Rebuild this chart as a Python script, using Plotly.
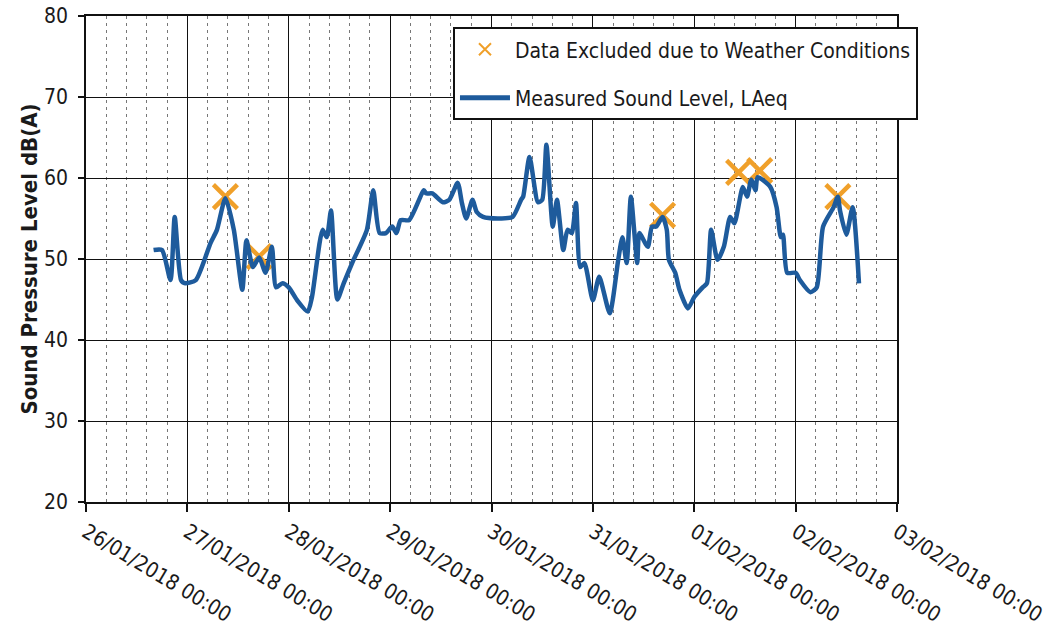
import plotly.graph_objects as go

# Measured sound level (LAeq) time series
times = [
    "2018-01-26 16:00", "2018-01-26 18:00", "2018-01-26 20:00", "2018-01-26 21:00",
    "2018-01-26 22:30", "2018-01-26 23:30", "2018-01-27 02:00", "2018-01-27 05:30",
    "2018-01-27 07:00", "2018-01-27 09:00", "2018-01-27 11:00", "2018-01-27 13:00",
    "2018-01-27 14:00", "2018-01-27 15:30", "2018-01-27 17:00", "2018-01-27 18:30",
    "2018-01-27 20:00", "2018-01-27 21:00", "2018-01-27 22:30", "2018-01-28 00:00",
    "2018-01-28 02:00", "2018-01-28 04:30", "2018-01-28 05:30", "2018-01-28 08:00",
    "2018-01-28 09:00", "2018-01-28 10:00", "2018-01-28 11:30", "2018-01-28 13:00",
    "2018-01-28 15:00", "2018-01-28 18:30", "2018-01-28 20:00", "2018-01-28 21:30",
    "2018-01-28 23:00", "2018-01-29 00:30", "2018-01-29 01:30", "2018-01-29 02:30",
    "2018-01-29 04:30", "2018-01-29 08:00", "2018-01-29 08:30", "2018-01-29 10:00",
    "2018-01-29 12:30", "2018-01-29 14:00", "2018-01-29 16:00", "2018-01-29 17:00",
    "2018-01-29 18:00", "2018-01-29 19:30", "2018-01-29 20:30", "2018-01-29 22:00",
    "2018-01-30 01:30", "2018-01-30 05:00", "2018-01-30 07:00", "2018-01-30 07:30",
    "2018-01-30 09:00", "2018-01-30 11:00", "2018-01-30 12:00", "2018-01-30 13:00",
    "2018-01-30 14:30", "2018-01-30 15:30", "2018-01-30 17:00", "2018-01-30 18:00",
    "2018-01-30 19:00", "2018-01-30 20:00", "2018-01-30 21:00", "2018-01-30 22:00",
    "2018-01-31 00:00", "2018-01-31 01:30", "2018-01-31 04:00", "2018-01-31 06:00",
    "2018-01-31 07:00", "2018-01-31 08:00", "2018-01-31 09:00", "2018-01-31 10:30",
    "2018-01-31 11:00", "2018-01-31 13:00", "2018-01-31 14:00", "2018-01-31 15:00",
    "2018-01-31 16:30", "2018-01-31 17:30", "2018-01-31 18:00", "2018-01-31 19:30",
    "2018-01-31 20:30", "2018-01-31 22:30", "2018-02-01 00:00", "2018-02-01 02:00",
    "2018-02-01 03:00", "2018-02-01 04:00", "2018-02-01 05:30", "2018-02-01 07:00",
    "2018-02-01 08:30", "2018-02-01 09:30", "2018-02-01 11:30", "2018-02-01 12:30",
    "2018-02-01 13:30", "2018-02-01 14:30", "2018-02-01 15:00", "2018-02-01 18:00",
    "2018-02-01 19:30", "2018-02-01 20:30", "2018-02-01 21:00", "2018-02-01 22:00",
    "2018-02-02 00:00", "2018-02-02 01:00", "2018-02-02 03:30", "2018-02-02 05:00",
    "2018-02-02 06:30", "2018-02-02 09:00", "2018-02-02 10:00", "2018-02-02 10:30",
    "2018-02-02 12:00", "2018-02-02 13:30", "2018-02-02 15:00",
]
laeq = [
    51.1, 51.1, 47.4, 55.2,
    47.4, 47.0, 47.4, 52.0,
    53.6, 57.5, 53.6, 46.2,
    52.3, 49.0, 50.2, 48.3,
    51.5, 46.5, 47.0, 46.5,
    44.9, 43.5, 45.3, 53.6,
    52.7, 56.0, 45.0, 47.0,
    49.5, 53.6, 58.5, 53.2,
    53.2, 54.0, 53.2, 54.8,
    54.8, 58.5, 58.1, 58.1,
    57.0, 57.3, 59.4, 56.9,
    55.0, 57.3, 55.8, 55.2,
    55.0, 55.2, 57.3, 57.7,
    62.6, 57.0, 57.3, 64.1,
    54.0, 57.3, 51.1, 53.6,
    53.2, 56.9, 49.0, 49.5,
    44.9, 47.8, 43.3, 49.9,
    52.7, 49.5, 57.7, 49.5,
    53.2, 51.5, 54.0, 54.0,
    55.2, 53.6, 49.9, 48.3,
    46.2, 43.9, 45.3, 46.5,
    47.0, 53.6, 49.9, 51.5,
    55.2, 54.4, 58.9, 57.7,
    59.8, 58.5, 60.1, 58.9,
    56.4, 52.7, 53.0, 48.3,
    48.3, 47.4, 45.9, 46.5,
    54.0, 56.4, 57.7, 56.0,
    53.0, 56.4, 47.0,
]

# Data excluded due to weather conditions
excl_times = ["2018-01-27 09:00", "2018-01-27 17:00", "2018-01-31 16:30",
              "2018-02-01 10:30", "2018-02-01 15:30", "2018-02-02 10:00"]
excl_values = [57.7, 50.3, 55.4, 60.7, 60.9, 57.7]

x_ticks = ["2018-01-26", "2018-01-27", "2018-01-28", "2018-01-29", "2018-01-30",
           "2018-01-31", "2018-02-01", "2018-02-02", "2018-02-03"]
x_ticktext = ["26/01/2018 00:00", "27/01/2018 00:00", "28/01/2018 00:00",
              "29/01/2018 00:00", "30/01/2018 00:00", "31/01/2018 00:00",
              "01/02/2018 00:00", "02/02/2018 00:00", "03/02/2018 00:00"]
y_ticks = [20, 30, 40, 50, 60, 70, 80]

FONT = "DejaVu Sans Condensed"

fig = go.Figure()
fig.add_trace(go.Scatter(
    x=excl_times, y=excl_values, mode="markers",
    name="Data Excluded due to Weather Conditions",
    legendgroup="a",
    marker=dict(symbol="x-thin", size=24, color="#F0A02A",
                line=dict(color="#F0A02A", width=4.5)),
))
fig.add_trace(go.Scatter(
    x=times, y=laeq, mode="lines",
    name="Measured Sound Level, LAeq",
    legendgroup="b",
    line=dict(color="#1E5B9C", width=4.5, shape="spline", smoothing=0.6),
))

fig.update_layout(
    width=1051, height=632,
    margin=dict(l=86, r=154, t=16, b=130),
    paper_bgcolor="white", plot_bgcolor="white",
    font=dict(family=FONT, size=21, color="#1a1a1a"),
    showlegend=True,
    legend=dict(
        x=0.4525, y=0.977, xanchor="left", yanchor="top",
        bgcolor="white", bordercolor="#111", borderwidth=2,
        font=dict(family=FONT, size=21, color="#1a1a1a"),
        tracegroupgap=18, itemwidth=50, itemsizing="constant",
        traceorder="grouped",
    ),
    xaxis=dict(
        type="date", automargin=False,
        range=["2018-01-26", "2018-02-03"],
        tickmode="array", tickvals=x_ticks, ticktext=x_ticktext,
        tickangle=31,
        ticks="outside", ticklen=8, tickcolor="#111", tickwidth=1.5,
        showline=True, linecolor="#111", linewidth=1.5, mirror=True,
        showgrid=True, gridcolor="#111", gridwidth=1.2,
        minor=dict(dtick=17280000, tick0="2018-01-26", showgrid=True,
                   gridcolor="#777", gridwidth=1, griddash="3px,4px", ticks=""),
        tickfont=dict(family=FONT, size=21),
        zeroline=False,
    ),
    yaxis=dict(
        range=[20, 80], automargin=False,
        tickvals=y_ticks,
        ticks="outside", ticklen=6, tickcolor="#111", tickwidth=1.5,
        ticklabelstandoff=6,
        showline=True, linecolor="#111", linewidth=1.5, mirror=True,
        showgrid=True, gridcolor="#111", gridwidth=1.2,
        title=dict(text="<b>Sound Pressure Level dB(A)</b>",
                   font=dict(family=FONT, size=22), standoff=0),
        tickfont=dict(family=FONT, size=21),
        zeroline=False,
    ),
)

fig.write_html("out.html",
               config={"displayModeBar": False},
               post_script="document.body.style.margin='0';document.body.style.padding='0';")
